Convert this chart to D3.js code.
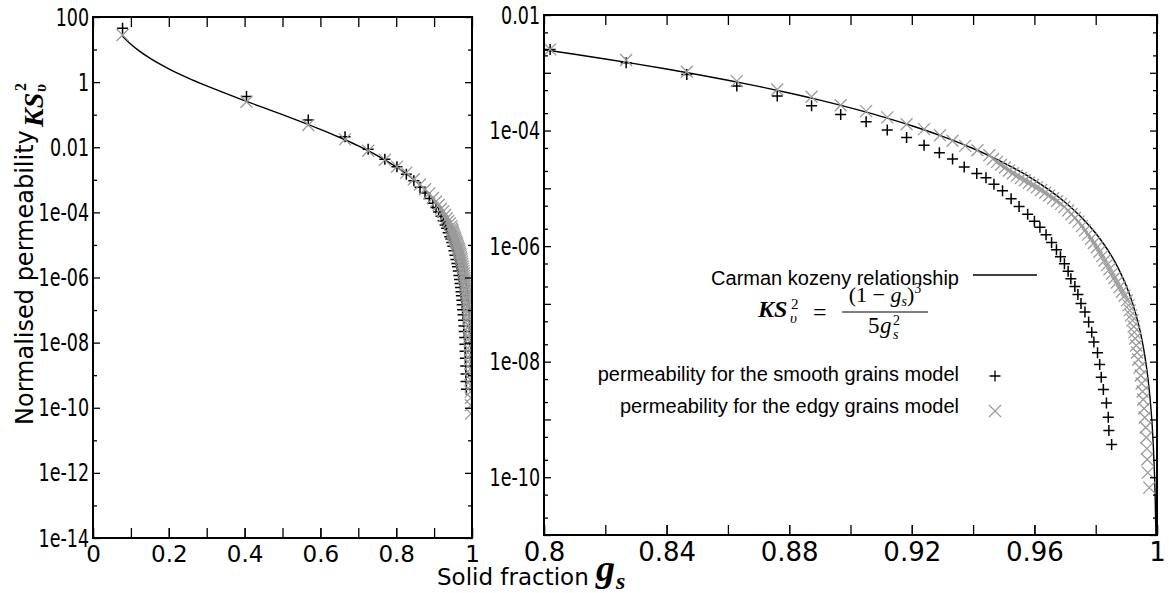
<!DOCTYPE html>
<html>
<head>
<meta charset="utf-8">
<script src="https://cdn.jsdelivr.net/npm/d3@7"></script>
<style>
    body { margin: 0; background: #fff; }
    svg { display: block; }
    .tick line { stroke: #000; stroke-width: 1.3; }
</style>
</head>
<body>
<svg id="chart" width="1169" height="593"></svg>
<script>
// ---- data ----
// smooth grains model (+)
const smoothGs = [0.078, 0.405, 0.568, 0.665, 0.726, 0.770,
    0.802, 0.8268, 0.8466, 0.8629, 0.8761, 0.8873, 0.8968, 0.9051, 0.9120, 0.9183,
    0.9240, 0.9290, 0.9333, 0.9371, 0.9412, 0.9442, 0.9468, 0.9496, 0.9524, 0.9550,
    0.9578, 0.9600, 0.9618, 0.9638, 0.9656, 0.9672, 0.9685, 0.9698, 0.9710, 0.9719,
    0.9732, 0.9742, 0.9752, 0.9765, 0.9777, 0.9787, 0.9794, 0.9806, 0.9813, 0.9818,
    0.9825, 0.9835, 0.9841, 0.9843, 0.9852];
const smoothK = [45, 0.36, 0.069, 0.021, 0.0087, 0.0043,
    2.54e-3, 1.49e-3, 9.38e-4, 5.88e-4, 3.95e-4, 2.68e-4, 1.90e-4, 1.42e-4, 1.02e-4, 7.59e-5,
    5.58e-5, 4.11e-5, 3.23e-5, 2.35e-5, 1.80e-5, 1.53e-5, 1.18e-5, 9.09e-6, 6.60e-6, 4.84e-6,
    3.56e-6, 2.69e-6, 2.12e-6, 1.57e-6, 1.16e-6, 8.63e-7, 6.53e-7, 4.93e-7, 3.66e-7, 2.73e-7,
    1.99e-7, 1.46e-7, 1.02e-7, 7.21e-8, 4.84e-8, 3.24e-8, 2.18e-8, 1.43e-8, 8.94e-9, 5.39e-9,
    3.30e-9, 1.92e-9, 1.09e-9, 6.42e-10, 3.67e-10];

// edgy grains model (x)
const edgyGs = [0.078, 0.405, 0.568, 0.665, 0.726, 0.770,
    0.802, 0.8268, 0.8466, 0.8629, 0.8761, 0.8873, 0.8968, 0.9051, 0.9120, 0.9183,
    0.9240, 0.9292, 0.9333, 0.9374, 0.9414, 0.9453, 0.9465, 0.9478, 0.9491, 0.9504,
    0.9517, 0.9530, 0.9543, 0.9556, 0.9569, 0.9582, 0.9595, 0.9608, 0.9622, 0.9635,
    0.9648, 0.9661, 0.9674, 0.9687, 0.9698, 0.9710, 0.9721, 0.9732, 0.9744, 0.9755,
    0.9765, 0.9775, 0.9785, 0.9794, 0.9804, 0.9812, 0.9821, 0.9829, 0.9837, 0.9845,
    0.9853, 0.9861, 0.9869, 0.9878, 0.9886, 0.9894, 0.9902, 0.9907, 0.9911, 0.9915,
    0.9920, 0.9924, 0.9926, 0.9929, 0.9932, 0.9935, 0.9939, 0.9943, 0.9947, 0.9950,
    0.9953, 0.9955, 0.9958, 0.9960, 0.9963, 0.9965, 0.9967, 0.9968, 0.9970, 0.9975];
const edgyK = [28, 0.25, 0.048, 0.0175, 0.0078, 0.0041,
    2.54e-3, 1.66e-3, 1.04e-3, 7.18e-4, 5.15e-4, 3.84e-4, 2.75e-4, 2.17e-4, 1.69e-4, 1.29e-4,
    1.06e-4, 8.32e-5, 6.64e-5, 5.43e-5, 4.57e-5, 3.75e-5, 3.22e-5, 2.87e-5, 2.56e-5, 2.29e-5,
    2.04e-5, 1.83e-5, 1.66e-5, 1.51e-5, 1.38e-5, 1.25e-5, 1.14e-5, 1.04e-5, 9.38e-6, 8.39e-6,
    7.50e-6, 6.74e-6, 6.02e-6, 5.39e-6, 4.78e-6, 4.12e-6, 3.56e-6, 3.07e-6, 2.65e-6, 2.22e-6,
    1.87e-6, 1.58e-6, 1.34e-6, 1.13e-6, 9.53e-7, 7.99e-7, 6.71e-7, 5.65e-7, 4.74e-7, 3.98e-7,
    3.34e-7, 2.80e-7, 2.35e-7, 1.96e-7, 1.64e-7, 1.38e-7, 1.15e-7, 9.42e-8, 7.72e-8, 6.32e-8,
    5.18e-8, 4.07e-8, 3.21e-8, 2.52e-8, 1.91e-8, 1.44e-8, 1.09e-8, 7.93e-9, 5.76e-9, 4.19e-9,
    3.04e-9, 2.21e-9, 1.55e-9, 1.08e-9, 7.24e-10, 4.86e-10, 3.13e-10, 2.02e-10, 1.20e-10, 6.6e-11];

// Carman-Kozeny curve
const carmanGs = [0.078, 0.09, 0.1, 0.12, 0.15, 0.2, 0.25, 0.3, 0.35, 0.4, 0.45, 0.5, 0.55, 0.6,
    0.65, 0.7, 0.75, 0.8, 0.81, 0.82, 0.83, 0.84, 0.85, 0.86, 0.87, 0.88, 0.89, 0.9, 0.91,
    0.92, 0.93, 0.94, 0.945, 0.95, 0.955, 0.96, 0.965, 0.97, 0.975, 0.98, 0.9825, 0.985,
    0.9875, 0.99, 0.992, 0.994, 0.995, 0.996, 0.997, 0.998, 0.9985, 0.999, 0.9995, 0.9998,
    0.99995, 0.99999];
const carmanK = [25.77, 18.61, 14.58, 9.465, 5.459, 2.56, 1.35, 0.7622, 0.4484, 0.27, 0.1643,
    0.1, 0.06025, 0.03556, 0.0203, 0.01102, 0.005556, 0.0025, 2.091e-3, 1.735e-3, 1.426e-3,
    1.161e-3, 9.34e-4, 7.42e-4, 5.81e-4, 4.463e-4, 3.361e-4, 2.469e-4, 1.761e-4, 1.21e-4,
    7.93e-5, 4.889e-5, 3.726e-5, 2.770e-5, 1.998e-5, 1.389e-5, 9.21e-6, 5.739e-6, 3.287e-6,
    1.666e-6, 1.110e-6, 6.957e-7, 4.006e-7, 2.041e-7, 1.041e-7, 4.372e-8, 2.525e-8, 1.290e-8,
    5.432e-9, 1.606e-9, 6.770e-10, 2.004e-10, 2.503e-11, 1.6e-12, 2.5e-14, 2e-16];

// tick values and labels
const leftXLabelValues = [0, 0.2, 0.4, 0.6, 0.8, 1];
const leftXLabels = ['0', '0.2', '0.4', '0.6', '0.8', '1'];
const leftYLabelValues = [1e2, 1, 1e-2, 1e-4, 1e-6, 1e-8, 1e-10, 1e-12, 1e-14];
const leftYLabels = ['100', '1', '0.01', '1e-04', '1e-06', '1e-08', '1e-10', '1e-12', '1e-14'];
const leftYOddDecades = [1e1, 1e-1, 1e-3, 1e-5, 1e-7, 1e-9, 1e-11, 1e-13];

const rightXLabelValues = [0.8, 0.84, 0.88, 0.92, 0.96, 1];
const rightXLabels = ['0.8', '0.84', '0.88', '0.92', '0.96', '1'];
const rightYLabelValues = [1e-2, 1e-4, 1e-6, 1e-8, 1e-10];
const rightYLabels = ['0.01', '1e-04', '1e-06', '1e-08', '1e-10'];
const rightYDecades = [1e-2, 1e-3, 1e-4, 1e-5, 1e-6, 1e-7, 1e-8, 1e-9, 1e-10, 1e-11];

const legendLabels = ['Carman kozeny relationship',
    'permeability for the smooth grains model',
    'permeability for the edgy grains model'];

const smoothData = smoothGs.map((g, i) => [g, smoothK[i]]);
const edgyData = edgyGs.map((g, i) => [g, edgyK[i]]);
const carmanData = carmanGs.map((g, i) => [g, carmanK[i]]);

const plusPath = 'M-5.5,0H5.5M0,-5.5V5.5';
const timesPath = 'M-6,-6L6,6M-6,6L6,-6';
const edgyColor = '#9b9b9b';
const yLabelSquash = 0.7;

const svg = d3.select('#chart');

function drawPanel(cfg) {
    const [x0, x1] = cfg.xRange;
    const [yb, yt] = cfg.yRange;

    const x = d3.scaleLinear().domain(cfg.xDomain).range(cfg.xRange);
    const y = d3.scaleLog().domain(cfg.yDomain).range(cfg.yRange);

    svg.append('clipPath').attr('id', cfg.id + '-clip')
        .append('rect')
        .attr('x', x0).attr('y', yt)
        .attr('width', x1 - x0).attr('height', yb - yt);

    const plot = svg.append('g').attr('clip-path', `url(#${cfg.id}-clip)`);

    // Carman kozeny line
    plot.append('path')
        .datum(carmanData)
        .attr('fill', 'none')
        .attr('stroke', '#000')
        .attr('stroke-width', 1.4)
        .attr('d', d3.line().x(d => x(d[0])).y(d => y(d[1])).curve(d3.curveMonotoneX));

    // smooth grains (+)
    plot.selectAll('.smooth')
        .data(smoothData)
        .join('path')
        .attr('class', 'smooth')
        .attr('transform', d => `translate(${x(d[0])},${y(d[1])})`)
        .attr('d', plusPath)
        .attr('stroke', '#000')
        .attr('stroke-width', 1.5);

    // edgy grains (x)
    plot.selectAll('.edgy')
        .data(edgyData)
        .join('path')
        .attr('class', 'edgy')
        .attr('transform', d => `translate(${x(d[0])},${y(d[1])})`)
        .attr('d', timesPath)
        .attr('stroke', edgyColor)
        .attr('stroke-width', 1.3);

    const axes = svg.append('g');

    // x ticks, inside, bottom and top
    axes.append('g')
        .attr('transform', `translate(0,${yb})`)
        .call(d3.axisBottom(x).tickValues(cfg.xTicks).tickSize(-10).tickFormat(''));
    axes.append('g')
        .attr('transform', `translate(0,${yb})`)
        .call(d3.axisBottom(x).tickValues(cfg.xLabelValues).tickSize(-10)
            .tickPadding(cfg.xPadding).tickFormat((d, i) => cfg.xLabels[i]))
        .call(g => g.selectAll('text')
            .attr('font-family', 'DejaVu Sans')
            .attr('font-size', cfg.xFontSize)
            .attr('fill', '#000'));
    axes.append('g')
        .attr('transform', `translate(0,${yt})`)
        .call(d3.axisTop(x).tickValues(cfg.xTicks).tickSize(-10).tickFormat(''));

    // y ticks, inside, left and right
    const yLabel = d => {
        const k = cfg.yLabelValues.indexOf(d);
        return k >= 0 ? cfg.yLabels[k] : '';
    };
    axes.append('g')
        .attr('transform', `translate(${x0},0)`)
        .call(d3.axisLeft(y).tickValues(cfg.yMajor).tickSize(-7).tickPadding(4).tickFormat(yLabel))
        .call(g => g.selectAll('text')
            .attr('font-family', 'DejaVu Sans')
            .attr('font-size', 25)
            .attr('fill', '#000')
            .attr('x', -4 / yLabelSquash)
            .attr('transform', `scale(${yLabelSquash},1)`));
    axes.append('g')
        .attr('transform', `translate(${x0},0)`)
        .call(d3.axisLeft(y).tickValues(cfg.yMinor).tickSize(-4).tickFormat(''));
    axes.append('g')
        .attr('transform', `translate(${x1},0)`)
        .call(d3.axisRight(y).tickValues(cfg.yMajor).tickSize(-7).tickFormat(''));
    axes.append('g')
        .attr('transform', `translate(${x1},0)`)
        .call(d3.axisRight(y).tickValues(cfg.yMinor).tickSize(-4).tickFormat(''));

    axes.selectAll('.domain').remove();

    // frame
    axes.append('rect')
        .attr('x', x0).attr('y', yt)
        .attr('width', x1 - x0).attr('height', yb - yt)
        .attr('fill', 'none')
        .attr('stroke', '#000')
        .attr('stroke-width', 2);

    return {x, y};
}

drawPanel({
    id: 'left',
    xDomain: [0, 1], xRange: [93, 472],
    yDomain: [1e-14, 1e2], yRange: [538, 17],
    xTicks: d3.range(0, 11).map(i => i / 10),
    xLabelValues: leftXLabelValues, xLabels: leftXLabels,
    xPadding: 8, xFontSize: 23,
    yMajor: leftYLabelValues, yMinor: leftYOddDecades,
    yLabelValues: leftYLabelValues, yLabels: leftYLabels
});

drawPanel({
    id: 'right',
    xDomain: [0.8, 1], xRange: [544, 1157],
    yDomain: [1e-11, 1e-2], yRange: [535, 15],
    xTicks: d3.range(0, 11).map(i => 0.8 + i * 0.02),
    xLabelValues: rightXLabelValues, xLabels: rightXLabels,
    xPadding: 8, xFontSize: 26,
    yMajor: rightYDecades,
    yMinor: rightYDecades.slice(1).flatMap(d => [2 * d, 5 * d]),
    yLabelValues: rightYLabelValues, yLabels: rightYLabels
});

// ---- axis titles ----
const yTitle = svg.append('g').attr('transform', 'translate(33,425) rotate(-90)');
yTitle.append('text')
    .attr('font-family', 'DejaVu Sans')
    .attr('font-size', 24)
    .text('Normalised permeability');
const mathText = (sel, px, py, size, txt, bold = true, italic = true) =>
    sel.append('text')
        .attr('x', px).attr('y', py)
        .attr('font-family', 'Liberation Serif')
        .attr('font-style', italic ? 'italic' : 'normal')
        .attr('font-weight', bold ? 'bold' : 'normal')
        .attr('font-size', size)
        .text(txt);
mathText(yTitle, 298, 10, 28, 'KS');
mathText(yTitle, 333, 13, 16, 'υ');
mathText(yTitle, 334, -7, 16, '2', true, false);

svg.append('text')
    .attr('x', 437).attr('y', 585)
    .attr('font-family', 'DejaVu Sans')
    .attr('font-size', 23)
    .text('Solid fraction');
mathText(svg, 596, 581, 38, 'g');
mathText(svg, 616, 589, 24, 's');

// ---- legend ----
const legend = svg.append('g');
[[285, 0], [381, 1], [413, 2]].forEach(([ly, i]) => {
    legend.append('text')
        .attr('x', 959).attr('y', ly)
        .attr('text-anchor', 'end')
        .attr('font-family', 'Liberation Sans')
        .attr('font-size', 20)
        .text(legendLabels[i]);
});
legend.append('line')
    .attr('x1', 973).attr('x2', 1037)
    .attr('y1', 275).attr('y2', 275)
    .attr('stroke', '#000').attr('stroke-width', 1.6);
legend.append('path')
    .attr('transform', 'translate(995,376)')
    .attr('d', plusPath).attr('stroke', '#000').attr('stroke-width', 1.3);
legend.append('path')
    .attr('transform', 'translate(995,411)')
    .attr('d', timesPath).attr('stroke', edgyColor).attr('stroke-width', 1.2);

// formula under the first legend entry
mathText(legend, 758, 317, 24, 'KS');
mathText(legend, 790, 323, 15, 'υ', false, true);
mathText(legend, 791, 309, 15, '2', false, false);
mathText(legend, 813, 320, 24, '=', false, false);
const num = legend.append('text')
    .attr('x', 885).attr('y', 302)
    .attr('text-anchor', 'middle')
    .attr('font-family', 'Liberation Serif')
    .attr('font-size', 22);
num.append('tspan').text('(1 − ');
num.append('tspan').attr('font-style', 'italic').text('g');
num.append('tspan').attr('font-style', 'italic').attr('font-size', 14).attr('dy', 4).text('s');
num.append('tspan').attr('dy', -4).text(')');
num.append('tspan').attr('font-size', 14).attr('dy', -9).text('3');
legend.append('line')
    .attr('x1', 842).attr('x2', 928)
    .attr('y1', 312).attr('y2', 312)
    .attr('stroke', '#000').attr('stroke-width', 1);
mathText(legend, 868, 333, 23, '5', false, false);
mathText(legend, 880, 333, 23, 'g', false, true);
mathText(legend, 893, 325, 14, '2', false, false);
mathText(legend, 893, 339, 14, 's', false, true);
</script>
</body>
</html>
